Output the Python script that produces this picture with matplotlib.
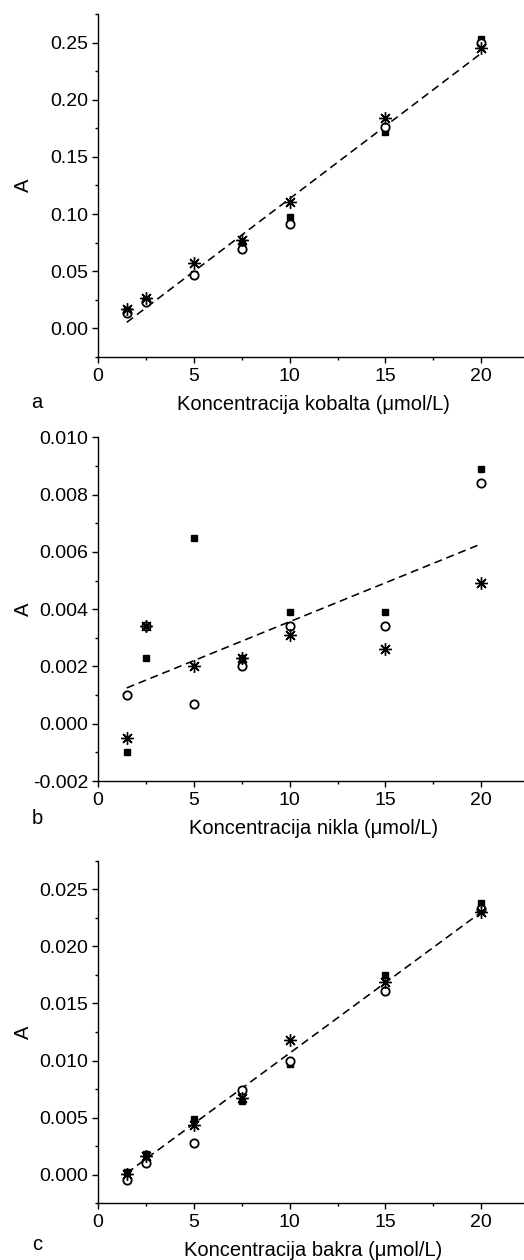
import numpy as np
import matplotlib
matplotlib.use("Agg")
import matplotlib.pyplot as plt
from matplotlib.ticker import MultipleLocator, FormatStrFormatter

plt.rcParams['font.family'] = ['Liberation Sans', 'DejaVu Sans']

# koncentracije (umol/L)
konc = [1.5, 2.5, 5, 7.5, 10, 15, 20]

# a - kobalt
a_kvadrat = [0.0164, 0.025, 0.048, 0.075, 0.0975, 0.1717, 0.253]
a_krug = [0.0134, 0.023, 0.047, 0.0695, 0.0914, 0.176, 0.250]
a_zvijezda = [0.017, 0.027, 0.057, 0.077, 0.111, 0.1837, 0.245]
a_pravac = [0.0053, 0.2407]

# b - nikal
b_kvadrat = [-0.0010, 0.0023, 0.0065, 0.0023, 0.0039, 0.0039, 0.0089]
b_krug = [0.0010, 0.0034, 0.0007, 0.0020, 0.0034, 0.0034, 0.0084]
b_zvijezda = [-0.0005, 0.0034, 0.0020, 0.0023, 0.0031, 0.0026, 0.0049]
b_pravac = [0.00125, 0.00628]

# c - bakar
c_kvadrat = [0.0002, 0.0018, 0.0049, 0.0065, 0.0097, 0.0175, 0.0238]
c_krug = [-0.0005, 0.0010, 0.0028, 0.0074, 0.0100, 0.0161, 0.0233]
c_zvijezda = [0.0001, 0.0016, 0.0044, 0.0067, 0.0118, 0.0169, 0.0230]
c_pravac = [0.00015, 0.0230]

pravac_x = [1.5, 20]

fig = plt.figure(figsize=(5.24, 12.6), dpi=100)

W, H = 524.0, 1260.0
ploce = [
    # (donji px, gornji px, ylim, korak, format, podaci, naziv, slovo)
    (357, 14, (-0.025, 0.275), 0.05, '%.2f', (a_kvadrat, a_krug, a_zvijezda, a_pravac),
     'Koncentracija kobalta (\u03bcmol/L)', 'a', 403),
    (781, 437.3, (-0.002, 0.010), 0.002, '%.3f', (b_kvadrat, b_krug, b_zvijezda, b_pravac),
     'Koncentracija nikla (\u03bcmol/L)', 'b', 818),
    (1203.3, 860.7, (-0.0025, 0.0275), 0.005, '%.3f', (c_kvadrat, c_krug, c_zvijezda, c_pravac),
     'Koncentracija bakra (\u03bcmol/L)', 'c', 1245),
]

for dno, vrh, ylim, korak, fmt, (kv, kr, zv, pr), naziv, slovo, slovo_y in ploce:
    ax = fig.add_axes([98 / W, 1 - dno / H, 1 - 98 / W + 0.01, (dno - vrh) / H])
    ax.plot(pravac_x, pr, color='black', linestyle=(0, (5, 3)), linewidth=1.15, zorder=2)
    ax.plot(konc, kv, linestyle='none', marker='s', markersize=5,
            markerfacecolor='black', markeredgecolor='black', zorder=3)
    ax.plot(konc, kr, linestyle='none', marker='o', markersize=6,
            markerfacecolor='white', markeredgecolor='black', markeredgewidth=1.3, zorder=4)
    ax.plot(konc, zv, linestyle='none', marker=(8, 2, 0), markersize=9,
            color='black', markeredgewidth=1.0, zorder=5)

    ax.set_xlim(0, 22.5)
    ax.set_ylim(*ylim)
    ax.xaxis.set_major_locator(MultipleLocator(5))
    ax.xaxis.set_minor_locator(MultipleLocator(2.5))
    ax.yaxis.set_major_locator(MultipleLocator(korak))
    ax.yaxis.set_minor_locator(MultipleLocator(korak / 2))
    ax.yaxis.set_major_formatter(FormatStrFormatter(fmt))
    ax.xaxis.set_major_formatter(FormatStrFormatter('%d'))

    for s in ['top', 'right']:
        ax.spines[s].set_visible(False)
    for s in ['left', 'bottom']:
        ax.spines[s].set_linewidth(1.0)
    ax.tick_params(which='major', direction='out', length=4, width=1.0, labelsize=14, pad=3)
    ax.tick_params(which='minor', direction='out', length=2.5, width=1.0)
    ax.tick_params(axis='x', which='major', pad=4)

    ax.set_xlabel(naziv, fontsize=14.5)
    ax.set_ylabel('A', fontsize=14.5)
    ax.xaxis.set_label_coords(0.5, -0.11)
    ax.yaxis.set_label_coords(-0.15, 0.5)

    fig.text(37 / W, 1 - slovo_y / H, slovo, fontsize=14.5, ha='center', va='center')

fig.savefig('out.png', dpi=100)
